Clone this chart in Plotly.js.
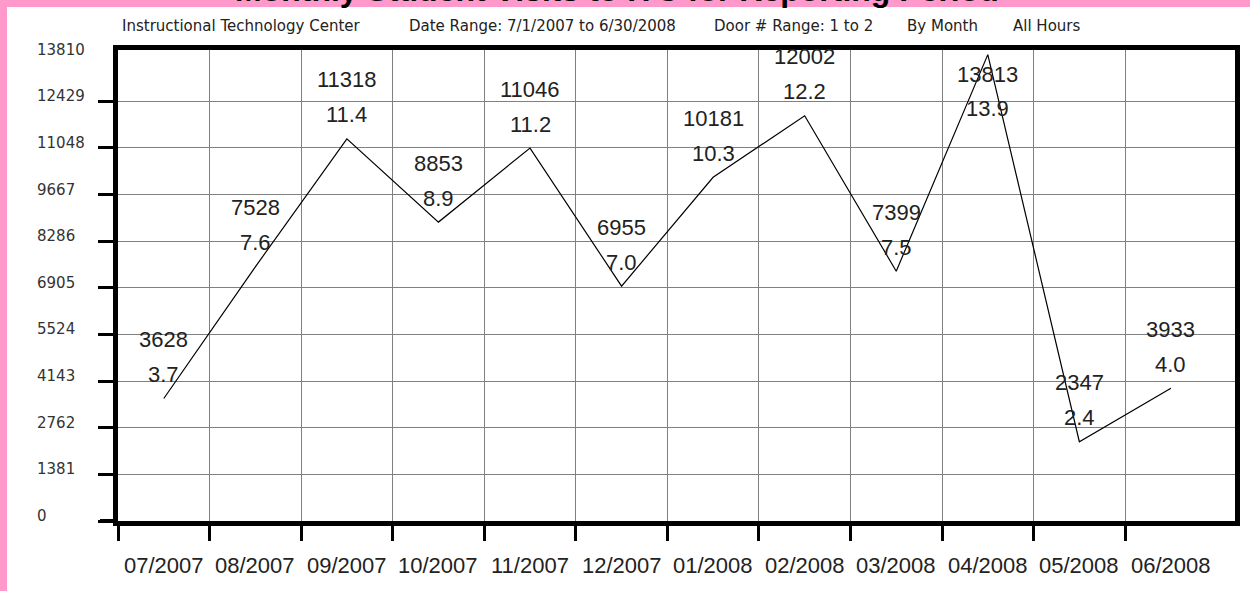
<!DOCTYPE html>
<html><head><meta charset="utf-8">
<script src="https://cdn.plot.ly/plotly-3.0.1.min.js"></script>
<style>html,body{margin:0;padding:0;background:#ff99cc;overflow:hidden;} #chart{width:1250px;height:591px;}</style>
</head><body><div id="chart"></div>
<script>
// ---- data ----
const months = ['07/2007','08/2007','09/2007','10/2007','11/2007','12/2007','01/2008','02/2008','03/2008','04/2008','05/2008','06/2008'];
const visits = [3628, 7528, 11318, 8853, 11046, 6955, 10181, 12002, 7399, 13813, 2347, 3933];
const percents = ['3.7','7.6','11.4','8.9','11.2','7.0','10.3','12.2','7.5','13.9','2.4','4.0'];
const yTickValues = [0, 1381, 2762, 4143, 5524, 6905, 8286, 9667, 11048, 12429, 13810];
const headerTexts = ['Instructional Technology Center', 'Date Range: 7/1/2007 to 6/30/2008', 'Door # Range: 1 to 2', 'By Month', 'All Hours'];
const titleText = 'Monthly Student Visits to ITC for Reporting Period';

// ---- layout geometry ----
const W = 1250, H = 591, M = {l: 118, r: 15, t: 50, b: 70};
const PW = W - M.l - M.r, PH = H - M.t - M.b;
const px = x => (x - M.l) / PW;
const py = y => (H - M.b - y) / PH;
const headerLeft = [120, 407, 712, 905, 1011];

const idx = months.map((_, i) => i);
const boundaries = months.map((_, i) => i - 0.5);
const yMax = 13950;

const annotations = [];
// cut-off title
annotations.push({xref: 'paper', yref: 'paper', x: px(617), y: py(10), xanchor: 'center', yanchor: 'bottom',
  text: '<b>' + titleText + '</b>', showarrow: false, font: {family: 'Liberation Sans, Arial, sans-serif', size: 32, color: '#000'}});
// header line
headerTexts.forEach((t, i) => annotations.push({xref: 'paper', yref: 'paper', x: px(headerLeft[i]), y: py(26),
  xanchor: 'left', yanchor: 'middle', text: t, showarrow: false,
  font: {family: 'DejaVu Sans, sans-serif', size: 15, color: '#222'}}));
// y labels (left aligned)
yTickValues.forEach(v => annotations.push({xref: 'paper', yref: 'y', x: px(35), y: v, yshift: 5,
  xanchor: 'left', yanchor: 'middle', text: String(v), showarrow: false,
  font: {family: 'DejaVu Sans, sans-serif', size: 15, color: '#333'}}));
// x labels
months.forEach((m, i) => annotations.push({xref: 'x', yref: 'paper', x: i, y: py(565),
  xanchor: 'center', yanchor: 'middle', text: m, showarrow: false,
  font: {family: 'Liberation Sans, Arial, sans-serif', size: 22, color: '#222'}}));
// data labels
const vMax = Math.max(...visits);
visits.forEach((v, i) => {
  const below = v === vMax && v > 13000;
  const lf = {family: 'Liberation Sans, Arial, sans-serif', size: 22, color: '#222'};
  annotations.push({xref: 'x', yref: 'y', x: i, y: v, yshift: below ? -20 : 59, xanchor: 'center', yanchor: 'middle',
    text: String(v), showarrow: false, font: lf});
  annotations.push({xref: 'x', yref: 'y', x: i, y: v, yshift: below ? -54 : 24, xanchor: 'center', yanchor: 'middle',
    text: percents[i], showarrow: false, font: lf});
});

const shapes = [
  {type: 'rect', xref: 'paper', yref: 'paper', x0: px(7), x1: px(1260), y0: py(600), y1: py(7),
   fillcolor: '#ffffff', line: {width: 0}, layer: 'below'},
  {type: 'line', xref: 'paper', yref: 'y', x0: px(100), x1: px(118), y0: 0, y1: 0,
   line: {color: '#000', width: 4}}
];

const trace = {x: idx, y: visits, type: 'scatter', mode: 'lines', line: {color: '#000', width: 1.2}, hoverinfo: 'skip'};

const layout = {
  width: W, height: H, margin: M,
  paper_bgcolor: '#ff99cc', plot_bgcolor: '#ffffff',
  showlegend: false,
  xaxis: {range: [-0.5, 11.7], tickvals: boundaries, showticklabels: false, ticks: 'outside', ticklen: 15, tickwidth: 3,
    tickcolor: '#000', showgrid: true, gridcolor: '#808080', gridwidth: 1, showline: true, linewidth: 5, linecolor: '#000',
    mirror: true, zeroline: false, fixedrange: true},
  yaxis: {range: [0, yMax], tickvals: yTickValues.slice(0, -1), showticklabels: false, ticks: 'outside', ticklen: 15, tickwidth: 3,
    tickcolor: '#000', showgrid: true, gridcolor: '#808080', gridwidth: 1, showline: true, linewidth: 5, linecolor: '#000',
    mirror: true, zeroline: false, fixedrange: true},
  annotations: annotations,
  shapes: shapes
};

Plotly.newPlot('chart', [trace], layout, {displayModeBar: false, staticPlot: true});
</script>
</body></html>
